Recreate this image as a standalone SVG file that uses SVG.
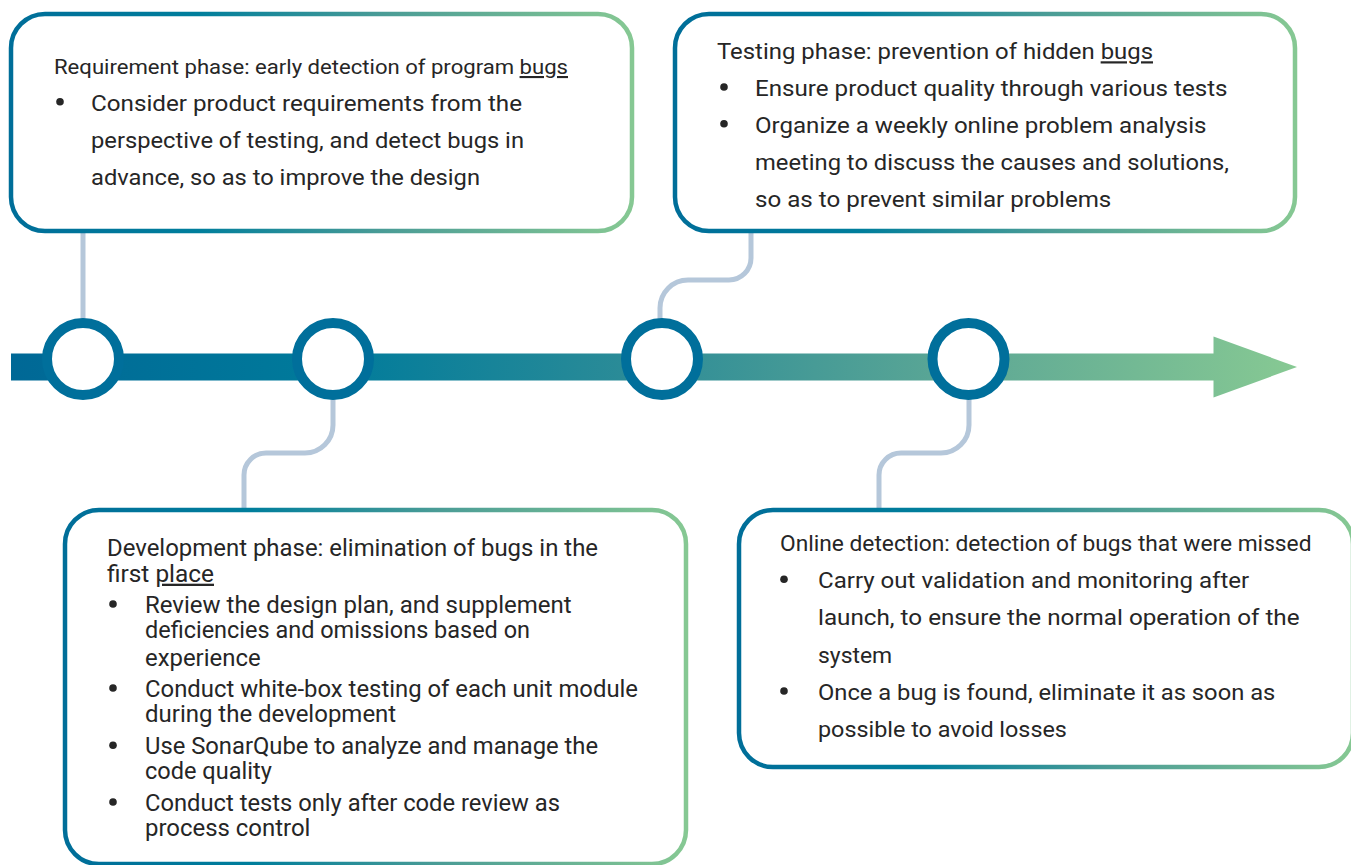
<svg xmlns="http://www.w3.org/2000/svg" width="1351" height="865" viewBox="0 0 1351 865">
  <defs>
    <!-- blue-to-green ramp used by the timeline bar and the card borders -->
    <linearGradient id="barGrad" gradientUnits="userSpaceOnUse" x1="11" y1="0" x2="1297" y2="0">
      <stop offset="0" stop-color="#006896"/>
      <stop offset="0.25" stop-color="#007b9b"/>
      <stop offset="0.5" stop-color="#2f8d97"/>
      <stop offset="0.75" stop-color="#5fa995"/>
      <stop offset="1" stop-color="#87c993"/>
    </linearGradient>
    <linearGradient id="borderGrad" x1="0" y1="0" x2="1" y2="0">
      <stop offset="0" stop-color="#006e99"/>
      <stop offset="0.3" stop-color="#007e9c"/>
      <stop offset="0.6" stop-color="#4a9c96"/>
      <stop offset="1" stop-color="#86c893"/>
    </linearGradient>
  </defs>
  <style>
    .card { fill: #ffffff; stroke: url(#borderGrad); stroke-width: 4.5; }
    .link { fill: none; stroke: #b5c7da; stroke-width: 5; }
    .dot { fill: #ffffff; stroke: #006f9b; stroke-width: 10; }
    .bullet { fill: #262626; }
    text { font-family: Roboto, "Liberation Sans", sans-serif; fill: #262626; }
    .t21 { font-size: 21px; }
    .t22 { font-size: 22px; }
    .t23 { font-size: 23px; }
    .ul { text-decoration: underline; }
  </style>

  <!-- leader lines from the timeline to the cards -->
  <g id="connectors">
    <path class="link" d="M83,231 V319"/>
    <path class="link" d="M333,399 V425 A28,28 0 0 1 305,453 H266 A22,22 0 0 0 244,475 V510"/>
    <path class="link" d="M660,319 V308 A28,28 0 0 1 688,280 H729 A22,22 0 0 0 751,258 V231"/>
    <path class="link" d="M969,399 V425 A28,28 0 0 1 941,453 H901 A22,22 0 0 0 879,475 V510"/>
  </g>

  <!-- timeline arrow with milestone rings -->
  <g id="timeline">
    <rect x="11" y="353.5" width="1204" height="27" fill="url(#barGrad)"/>
    <polygon points="1213.5,336.5 1297,367 1213.5,397.5" fill="url(#barGrad)"/>
    <circle class="dot" cx="83" cy="359" r="36"/>
    <circle class="dot" cx="333" cy="359" r="36"/>
    <circle class="dot" cx="662" cy="359" r="36"/>
    <circle class="dot" cx="968.5" cy="359" r="36"/>
  </g>

  <!-- requirement phase -->
  <g id="requirement">
    <rect class="card" x="11" y="14" width="621" height="217" rx="34"/>
    <text class="t21" x="54" y="74" textLength="514" lengthAdjust="spacingAndGlyphs">Requirement phase: early detection of program <tspan class="ul">bugs</tspan></text>
    <circle class="bullet" cx="60" cy="101.7" r="3.8"/>
    <text class="t22" x="91" y="110.7" textLength="431" lengthAdjust="spacingAndGlyphs">Consider product requirements from the</text>
    <text class="t22" x="91" y="147.7" textLength="433" lengthAdjust="spacingAndGlyphs">perspective of testing, and detect bugs in</text>
    <text class="t22" x="91" y="185" textLength="389" lengthAdjust="spacingAndGlyphs">advance, so as to improve the design</text>
  </g>

  <!-- testing phase -->
  <g id="testing">
    <rect class="card" x="675" y="14" width="620" height="217" rx="34"/>
    <text class="t22" x="717" y="59.3" textLength="436" lengthAdjust="spacingAndGlyphs">Testing phase: prevention of hidden <tspan class="ul">bugs</tspan></text>
    <circle class="bullet" cx="724" cy="87" r="3.8"/>
    <text class="t22" x="755" y="96" textLength="472.6" lengthAdjust="spacingAndGlyphs">Ensure product quality through various tests</text>
    <circle class="bullet" cx="724" cy="123.7" r="3.8"/>
    <text class="t22" x="755" y="132.7" textLength="451.5" lengthAdjust="spacingAndGlyphs">Organize a weekly online problem analysis</text>
    <text class="t22" x="755" y="170" textLength="474" lengthAdjust="spacingAndGlyphs">meeting to discuss the causes and solutions,</text>
    <text class="t22" x="755" y="207.3" textLength="356.3" lengthAdjust="spacingAndGlyphs">so as to prevent similar problems</text>
  </g>

  <!-- development phase -->
  <g id="development">
    <rect class="card" x="65" y="510" width="621" height="354" rx="34"/>
    <text class="t23" x="107" y="556" textLength="491" lengthAdjust="spacingAndGlyphs">Development phase: elimination of bugs in the</text>
    <text class="t23" x="107" y="581.7" textLength="107" lengthAdjust="spacingAndGlyphs">first <tspan class="ul">place</tspan></text>
    <circle class="bullet" cx="113" cy="604" r="3.8"/>
    <text class="t23" x="145" y="612.7" textLength="426.6" lengthAdjust="spacingAndGlyphs">Review the design plan, and supplement</text>
    <text class="t23" x="145" y="638.3" textLength="385" lengthAdjust="spacingAndGlyphs">deficiencies and omissions based on</text>
    <text class="t23" x="145" y="665.7" textLength="115.6" lengthAdjust="spacingAndGlyphs">experience</text>
    <circle class="bullet" cx="113" cy="688" r="3.8"/>
    <text class="t23" x="145" y="696.7" textLength="493" lengthAdjust="spacingAndGlyphs">Conduct white-box testing of each unit module</text>
    <text class="t23" x="145" y="722.3" textLength="251.2" lengthAdjust="spacingAndGlyphs">during the development</text>
    <circle class="bullet" cx="113" cy="745.3" r="3.8"/>
    <text class="t23" x="145" y="754" textLength="453" lengthAdjust="spacingAndGlyphs">Use SonarQube to analyze and manage the</text>
    <text class="t23" x="145" y="779.3" textLength="126.8" lengthAdjust="spacingAndGlyphs">code quality</text>
    <circle class="bullet" cx="113" cy="802" r="3.8"/>
    <text class="t23" x="145" y="810.7" textLength="415" lengthAdjust="spacingAndGlyphs">Conduct tests only after code review as</text>
    <text class="t23" x="145" y="836" textLength="165.4" lengthAdjust="spacingAndGlyphs">process control</text>
  </g>

  <!-- online detection -->
  <g id="online">
    <rect class="card" x="739" y="510" width="614" height="257" rx="34"/>
    <text class="t22" x="780" y="550.7" textLength="531.5" lengthAdjust="spacingAndGlyphs">Online detection: detection of bugs that were missed</text>
    <circle class="bullet" cx="784" cy="579.3" r="3.8"/>
    <text class="t22" x="818" y="588.3" textLength="431.2" lengthAdjust="spacingAndGlyphs">Carry out validation and monitoring after</text>
    <text class="t22" x="818" y="625.3" textLength="481.5" lengthAdjust="spacingAndGlyphs">launch, to ensure the normal operation of the</text>
    <text class="t22" x="818" y="662.7" textLength="74.2" lengthAdjust="spacingAndGlyphs">system</text>
    <circle class="bullet" cx="784" cy="691" r="3.8"/>
    <text class="t22" x="818" y="700" textLength="457.3" lengthAdjust="spacingAndGlyphs">Once a bug is found, eliminate it as soon as</text>
    <text class="t22" x="818" y="737.3" textLength="248.9" lengthAdjust="spacingAndGlyphs">possible to avoid losses</text>
  </g>
</svg>
